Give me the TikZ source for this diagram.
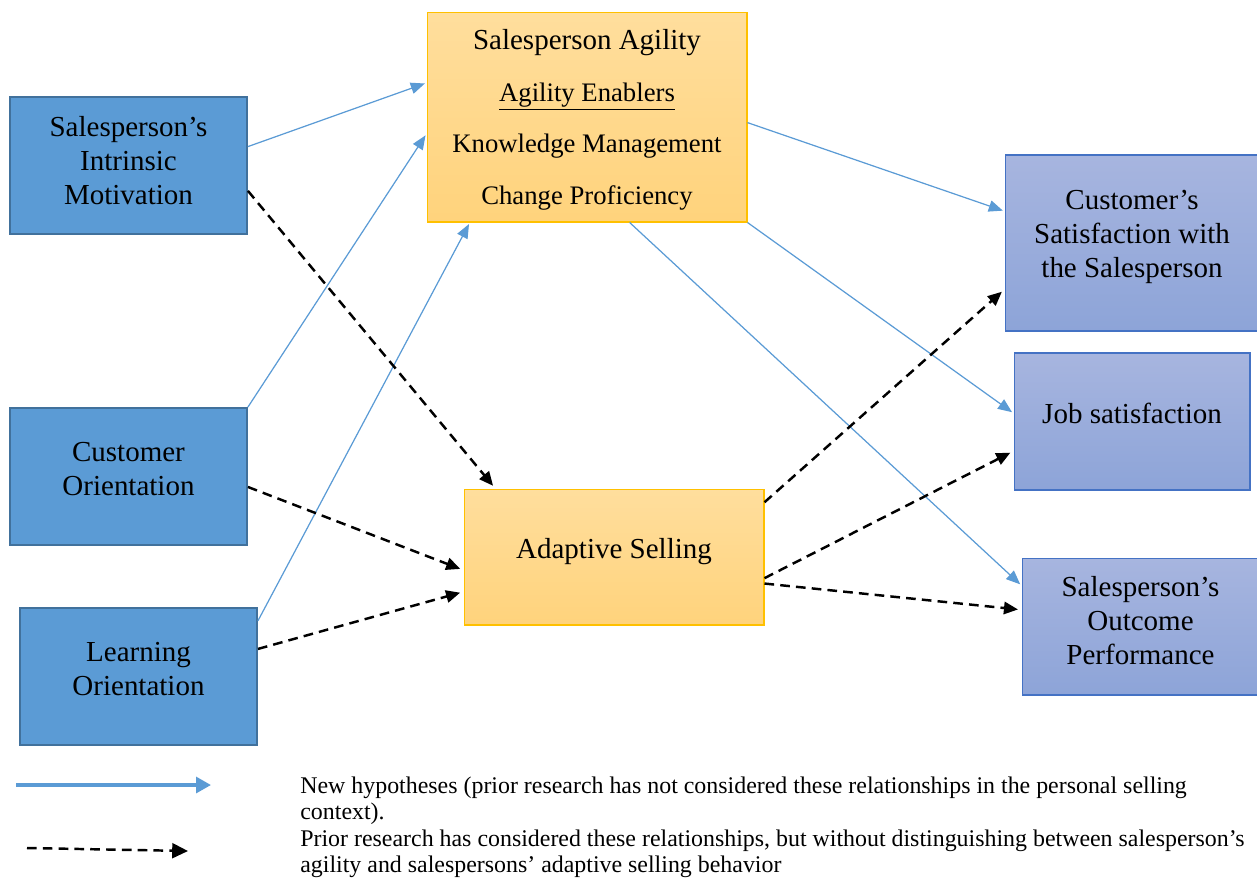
\documentclass[tikz,border=0pt]{standalone}
\usepackage{fontspec}
\setmainfont{Liberation Serif}
\usetikzlibrary{arrows.meta, positioning}

\definecolor{leftfill}{HTML}{5B9BD5}
\definecolor{leftedge}{HTML}{41719C}
\definecolor{agiltop}{HTML}{FFDE9D}
\definecolor{agilbot}{HTML}{FFD37C}
\definecolor{agiledge}{HTML}{FFC000}
\definecolor{outtop}{HTML}{A7B5DF}
\definecolor{outbot}{HTML}{8DA4D8}
\definecolor{outedge}{HTML}{4472C4}
\definecolor{newline}{HTML}{5B9BD5}

\newcommand{\enabler}[1]{\fontsize{15.2}{29.5}\selectfont #1}

\begin{document}
\begin{tikzpicture}[
    x=0.02cm,
    y=-0.02cm,
    boxfont/.style={font=\fontsize{16.5}{19.2}\selectfont},
    inbox/.style={boxfont, draw=leftedge, line width=1.1pt, fill=leftfill,
        align=center, inner sep=0pt, minimum width=4.74cm, minimum height=2.74cm},
    agilbox/.style={boxfont, draw=agiledge, line width=0.6pt, top color=agiltop,
        bottom color=agilbot, align=center, inner sep=0pt},
    outbox/.style={boxfont, draw=outedge, line width=0.6pt, top color=outtop,
        bottom color=outbot, align=center, inner sep=0pt},
    newarr/.style={draw=newline, line width=0.7pt,
        -{Triangle[length=8pt, width=6.5pt]}, shorten >=1pt},
    oldarr/.style={draw=black, line width=1.4pt, dash pattern=on 5.5pt off 3.5pt,
        -{Triangle[length=8pt, width=7pt]}, shorten >=2pt},
    legend/.style={anchor=north west, align=left, inner sep=0pt,
        font=\fontsize{13.6}{14.8}\selectfont}
]
\useasboundingbox (0,0) rectangle (1257,877);

% antecedents
\node[inbox, text depth=5.8pt] (sim) at (128.5,165.5) {Salesperson’s\\Intrinsic\\Motivation};
\node[inbox, text depth=9pt] (custor) at (128.5,476.5) {Customer\\Orientation};
\node[inbox, text depth=9pt] (learnor) at (138.5,676.5) {Learning\\Orientation};

% mediators
\node[agilbox, minimum width=6.4cm, minimum height=4.2cm, text depth=-3.5pt,
    font=\fontsize{16.5}{29.5}\selectfont] (agility) at (587,117)
    {Salesperson Agility\\\enabler{\underline{Agility Enablers}}\\
     \enabler{Knowledge Management}\\\enabler{Change Proficiency}};
\node[agilbox, minimum width=6cm, minimum height=2.72cm, text depth=10.2pt] (adaptive)
    at (614,557) {Adaptive Selling};

% outcomes
\node[outbox, minimum width=5.08cm, minimum height=3.52cm, text depth=10.4pt] (custsat)
    at (1132,243) {Customer’s\\Satisfaction with\\the Salesperson};
\node[outbox, minimum width=4.72cm, minimum height=2.74cm, text depth=9.6pt] (jobsat)
    at (1132,421.5) {Job satisfaction};
\node[outbox, minimum width=4.74cm, minimum height=2.74cm, text depth=6.8pt] (outperf)
    at (1140.5,626.5) {Salesperson’s\\Outcome\\Performance};

% new hypotheses
\draw[newarr] (sim.9) -- (agility.168);
\draw[newarr] (custor.north east) -- (agility.186);
\draw[newarr] (learnor.25) -- (agility.222);
\draw[newarr] (agility.-2) -- (custsat.166);
\draw[newarr] (agility.south east) -- (jobsat.176);
\draw[newarr] (agility.-68) -- (outperf.161);

% relationships from prior research
\draw[oldarr] (sim.-12) -- (adaptive.150);
\draw[oldarr] (custor.-5) -- (adaptive.185);
\draw[oldarr] (learnor.13) -- (adaptive.193);
\draw[oldarr] (adaptive.20) -- (custsat.200);
\draw[oldarr] (adaptive.-8) -- (jobsat.194);
\draw[oldarr] (adaptive.-10) -- (outperf.172);

% legend
\coordinate (newA) at (16,785);
\coordinate (newB) at (211,785);
\coordinate (oldA) at (27,848);
\coordinate (oldB) at (188,851);
\draw[newline, line width=2pt, -{Triangle[length=8.5pt, width=9pt]}] (newA) -- (newB);
\draw[oldarr, shorten >=0pt, -{Triangle[length=9pt, width=8.5pt]}] (oldA) -- (oldB);
\node[legend] (legnew) at (300,776.5)
    {New hypotheses (prior research has not considered these relationships in the personal selling\\context).};
\node[legend] (legold) at (300,830)
    {Prior research has considered these relationships, but without distinguishing between salesperson’s\\agility and salespersons’ adaptive selling behavior};
\end{tikzpicture}
\end{document}
